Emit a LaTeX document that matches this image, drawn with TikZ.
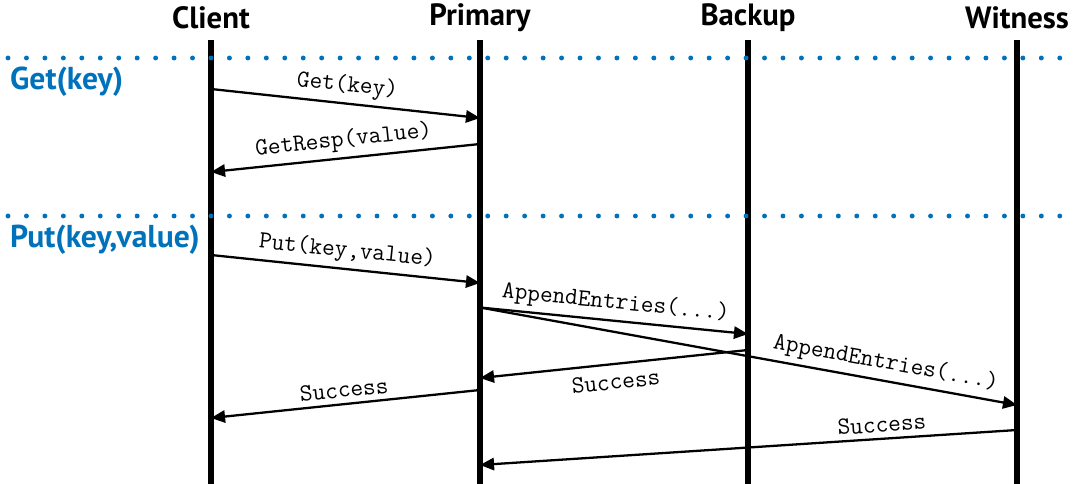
\documentclass[tikz,border=0pt]{standalone}
\usepackage{fontspec}
\setsansfont{PT Sans}
\usetikzlibrary{arrows.meta}
\definecolor{opblue}{RGB}{0,114,188}

\begin{document}
\begin{tikzpicture}[
  actor/.style={font=\sffamily\bfseries\fontsize{17.5}{20}\selectfont},
  lifeline/.style={line width=3.4pt},
  phase/.style={opblue, line width=2.8pt, line cap=round, dash pattern=on 0pt off 10.5pt},
  oplabel/.style={anchor=west, text=opblue, font=\sffamily\bfseries\fontsize{18}{20}\selectfont},
  msg/.style={-{Triangle[length=8pt,width=7pt]}, line width=1.3pt},
  txt/.style={font=\ttfamily\fontsize{14}{16}\selectfont, sloped, inner sep=3pt}
]
\useasboundingbox (0,0) rectangle (21.54,-9.68);

\node[actor] (client) at (4.22,-0.36) {Client};
\node[actor] (primary) at (9.60,-0.36) {Primary};
\node[actor] (backup) at (14.96,-0.36) {Backup};
\node[actor] (witness) at (20.34,-0.36) {Witness};

\coordinate (cend) at (4.22,-9.68);
\coordinate (pend) at (9.60,-9.68);
\coordinate (bend) at (14.96,-9.68);
\coordinate (wend) at (20.34,-9.68);
\draw[lifeline] (4.22,-0.80) -- (cend);
\draw[lifeline] (9.60,-0.80) -- (pend);
\draw[lifeline] (14.96,-0.80) -- (bend);
\draw[lifeline] (20.34,-0.80) -- (wend);

\coordinate (getl) at (0.16,-1.16);
\coordinate (getr) at (21.54,-1.16);
\coordinate (putl) at (0.16,-4.32);
\coordinate (putr) at (21.54,-4.32);
\draw[phase] (getl) -- (getr);
\draw[phase] (putl) -- (putr);
\node[oplabel] (getop) at (0.08,-1.64) {Get(key)};
\node[oplabel] (putop) at (0.08,-4.80) {Put(key,value)};

\coordinate (c1) at (4.22,-1.78);
\coordinate (p1) at (9.60,-2.36);
\coordinate (p2) at (9.60,-2.88);
\coordinate (c2) at (4.22,-3.44);
\coordinate (c3) at (4.22,-5.10);
\coordinate (p3) at (9.60,-5.66);
\coordinate (p4) at (9.60,-6.15);
\coordinate (b4) at (14.96,-6.68);
\coordinate (w5) at (20.34,-8.10);
\coordinate (b6) at (14.96,-7.00);
\coordinate (p6) at (9.60,-7.56);
\coordinate (p7) at (9.60,-7.80);
\coordinate (c7) at (4.22,-8.36);
\coordinate (w8) at (20.34,-8.60);
\coordinate (p8) at (9.60,-9.30);

\draw[msg] (c1) -- node[txt, above] {Get(key)} (p1);
\draw[msg] (p2) -- node[txt, above] {GetResp(value)} (c2);
\draw[msg] (c3) -- node[txt, above] {Put(key,value)} (p3);
\draw[msg] (p4) -- node[txt, above] {AppendEntries(...)} (b4);
\draw[msg] (p4) -- node[txt, above, pos=0.75] {AppendEntries(...)} (w5);
\draw[msg] (b6) -- node[txt, below, inner sep=5pt] {Success} (p6);
\draw[msg] (p7) -- node[txt, above] {Success} (c7);
\draw[msg] (w8) -- node[txt, above, pos=0.25] {Success} (p8);
\end{tikzpicture}
\end{document}
